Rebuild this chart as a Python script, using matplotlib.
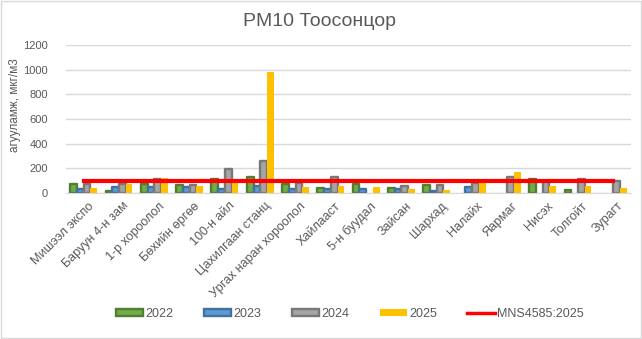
import numpy as np
import matplotlib
matplotlib.use("Agg")
import matplotlib.pyplot as plt
import matplotlib.patches as patches
import matplotlib.transforms as mtransforms
from matplotlib.lines import Line2D

plt.rcParams["font.family"] = ["Liberation Sans", "DejaVu Sans"]

stations = ["Мишээл экспо", "Баруун 4-н зам", "1-р хороолол", "Бөхийн өргөө",
            "100-н айл", "Цахилгаан станц", "Ургах наран хороолол", "Хайлааст",
            "5-н буудал", "Зайсан", "Шархад", "Налайх", "Яармаг", "Нисэх",
            "Толгойт", "Зурагт"]
nan = np.nan
y2022 = [76, 14, 76, 68, 112, 128, 71, 44, 71, 44, 63, nan, nan, 112, 22, nan]
y2023 = [30, 52, 52, 52, 35, 57, 30, 35, 30, 30, 14, 46, nan, nan, nan, nan]
y2024 = [76, 76, 117, 68, 191, 257, 79, 128, nan, 55, 63, 82, 128, 100, 112, 98]
y2025 = [38, 71, 120, 55, 95, 985, 46, 57, 46, 30, 22, 112, 169, 57, 57, 44]
limit = 100
limit_label = "MNS4585:2025"

series = [("2022", y2022, "#70AD47", "#507E32"),
          ("2023", y2023, "#5B9BD5", "#41719C"),
          ("2024", y2024, "#A5A5A5", "#787878"),
          ("2025", y2025, "#FFC000", None)]

text_col = "#595959"

fig = plt.figure(figsize=(6.42, 3.39), dpi=100)
ax = fig.add_axes([66 / 642, 1 - 193 / 339, 565 / 642, 148 / 339])

x = np.arange(len(stations))
w = 0.19
handles = []
for i, (name, vals, face, edge) in enumerate(series):
    off = (i - 1.5) * w
    if edge:
        ax.bar(x + off, vals, w, color=face, edgecolor=edge, linewidth=1.7,
               zorder=2, joinstyle="round")
        handles.append(patches.Patch(facecolor=face, edgecolor=edge, linewidth=1.7, label=name))
    else:
        ax.bar(x + off, vals, w, color=face, linewidth=0, zorder=2)
        handles.append(patches.Patch(facecolor=face, edgecolor="none", label=name))

ax.plot(x, [limit] * len(x), color="#FF0000", linewidth=3, zorder=3)
handles.append(Line2D([0], [0], color="#FF0000", linewidth=2.5, label=limit_label))

ax.set_xlim(-0.5, len(stations) - 0.5)
ax.set_ylim(0, 1200)
ax.set_yticks(range(0, 1201, 200))
ax.yaxis.grid(True, color="#D9D9D9", linewidth=1, zorder=0)
ax.set_axisbelow(True)
for s in ["top", "right", "left"]:
    ax.spines[s].set_visible(False)
ax.spines["bottom"].set_color("#D9D9D9")
ax.tick_params(axis="y", length=0, pad=13, labelsize=8, labelcolor=text_col)
ax.tick_params(axis="x", length=0, pad=5, labelsize=9, labelcolor=text_col)
ax.set_xticks(x)
ax.set_xticklabels(stations, rotation=45, ha="right", rotation_mode="anchor")
shift = mtransforms.ScaledTranslation(4 / 100, 0, fig.dpi_scale_trans)
for lab in ax.get_xticklabels():
    lab.set_transform(lab.get_transform() + shift)

fig.text(0.498, 1 - 22 / 339, "PM10 Тоосонцор", ha="center", va="center",
         fontsize=14, color=text_col)
fig.text(15 / 642, 1 - 105 / 339, "агууламж, мкг/м3", rotation=90,
         ha="center", va="center", fontsize=8.5, color=text_col)

fig.legend(handles=handles, loc="center", bbox_to_anchor=(0.545, 1 - 314 / 339),
           ncol=5, frameon=False, fontsize=9, handlelength=2.2, handleheight=0.5,
           handletextpad=0.2, columnspacing=2.4, labelcolor=text_col)

fig.patches.append(patches.Rectangle((0.002, 0.003), 0.996, 0.994, transform=fig.transFigure,
                                     fill=False, edgecolor="#D9D9D9", linewidth=1))

fig.savefig("out.png", dpi=100)
